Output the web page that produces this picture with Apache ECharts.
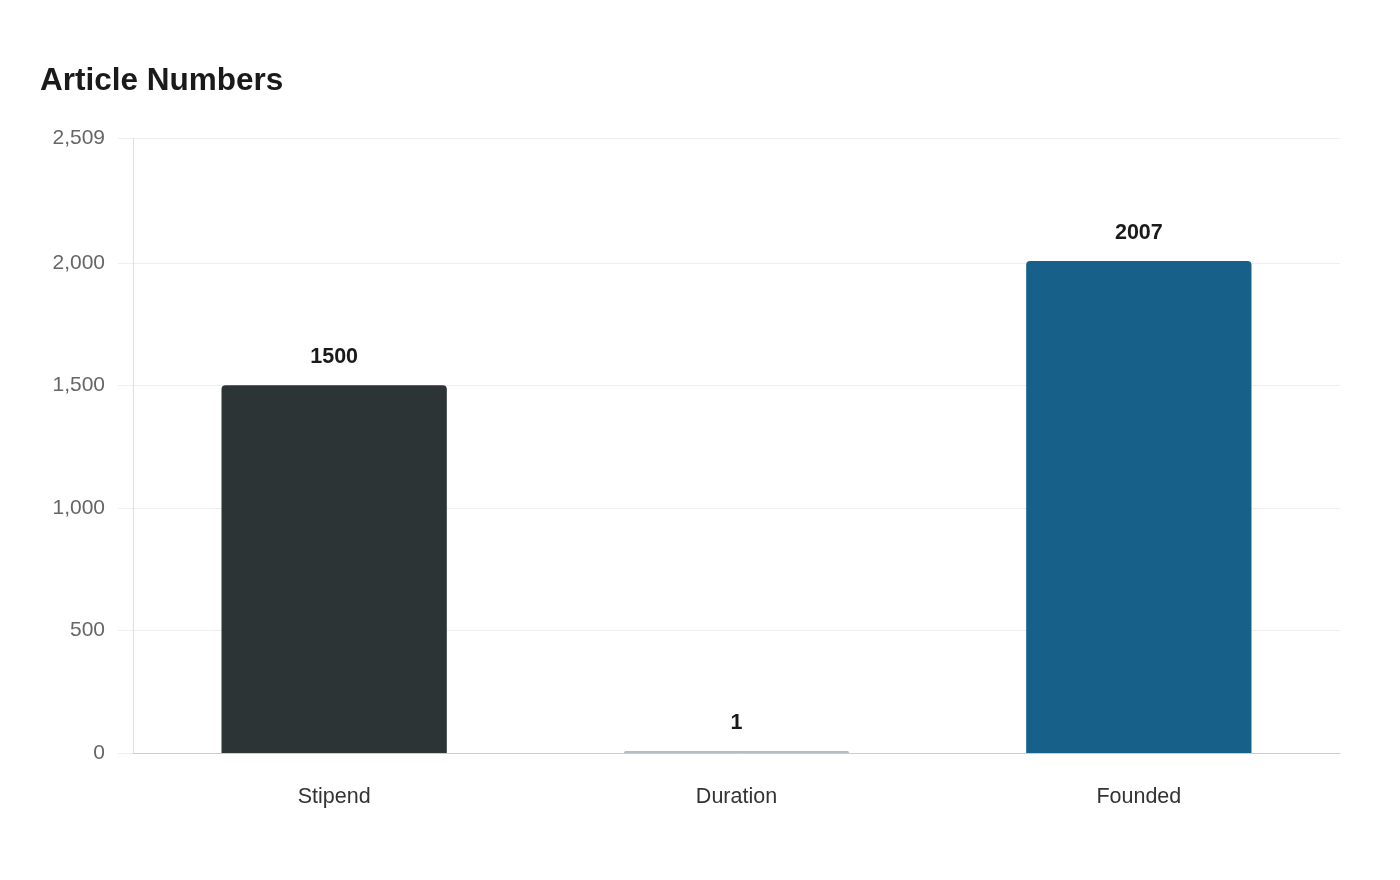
<!DOCTYPE html>
<html>
<head>
<meta charset="utf-8">
<title>Article Numbers</title>
<script src="https://cdn.jsdelivr.net/npm/echarts@6/dist/echarts.min.js"></script>
<style>
    html, body { margin: 0; padding: 0; background: #fff; }
    #chart { width: 1400px; height: 880px; }
</style>
</head>
<body>
<div id="chart"></div>
<script>
// 数据
var categories = ['Stipend', 'Duration', 'Founded'];
var values = [1500, 1, 2007];
var barColors = ['#2d3436', '#b2bec3', '#17608a'];
var yTicks = [0, 500, 1000, 1500, 2000, 2509];

var myChart = echarts.init(document.getElementById('chart'));
var option = {
    title: {
        text: 'Article Numbers',
        left: 40,
        top: 65,
        padding: 0,
        textStyle: {
            fontFamily: 'Liberation Sans',
            fontSize: 31.5,
            fontWeight: 'bold',
            color: '#1a1a1a'
        }
    },
    grid: {
        left: 133,
        right: 60,
        top: 138,
        bottom: 127
    },
    xAxis: {
        type: 'category',
        data: categories,
        axisLine: { lineStyle: { color: '#cccccc', width: 1 } },
        axisTick: { show: false },
        axisLabel: {
            margin: 33,
            fontFamily: 'Liberation Sans',
            fontSize: 21.5,
            color: '#333333'
        }
    },
    yAxis: {
        type: 'value',
        min: 0,
        max: yTicks[yTicks.length - 1],
        axisLine: { show: true, lineStyle: { color: '#e0e0e0' } },
        axisTick: {
            show: true,
            length: 15,
            customValues: yTicks,
            lineStyle: { color: '#eeeeee' }
        },
        splitLine: { lineStyle: { color: '#eeeeee', width: 1 } },
        axisLabel: {
            margin: 28,
            customValues: yTicks,
            fontFamily: 'Liberation Sans',
            fontSize: 21,
            color: '#666666'
        }
    },
    series: [{
        type: 'bar',
        barWidth: '56%',
        barMinHeight: 2,
        data: values.map(function (v, i) {
            return { value: v, itemStyle: { color: barColors[i] } };
        }),
        itemStyle: { borderRadius: [4, 4, 0, 0] },
        label: {
            show: true,
            position: 'top',
            distance: 17,
            fontFamily: 'Liberation Sans',
            fontSize: 21.5,
            fontWeight: 'bold',
            color: '#1a1a1a'
        }
    }]
};
myChart.setOption(option);
</script>
</body>
</html>
